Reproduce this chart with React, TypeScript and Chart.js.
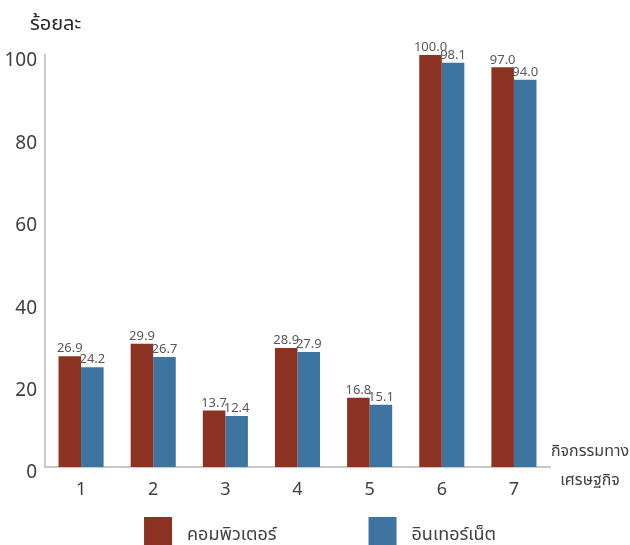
import React, { useEffect, useRef } from "react";
import { Chart, registerables } from "chart.js";

Chart.register(...registerables);

const categories = ["1", "2", "3", "4", "5", "6", "7"];
const computerValues = [26.9, 29.9, 13.7, 28.9, 16.8, 100.0, 97.0];
const internetValues = [24.2, 26.7, 12.4, 27.9, 15.1, 98.1, 94.0];
const seriesNames = ["คอมพิวเตอร์", "อินเทอร์เน็ต"];
const seriesColors = ["#8B3222", "#3E75A0"];
const yTitle = "ร้อยละ";
const xTitleLines = ["กิจกรรมทาง", "เศรษฐกิจ"];
const yMin = 0;
const yMax = 100;
const yStep = 20;

const FONT = "'Noto Sans', 'Noto Sans Thai', Tahoma, 'DejaVu Sans', sans-serif";

const extrasPlugin = {
  id: "extras",
  afterDatasetsDraw(chart: any) {
    const ctx = chart.ctx;
    ctx.save();
    // data labels
    ctx.font = `13px ${FONT}`;
    ctx.fillStyle = "#595959";
    ctx.textAlign = "center";
    ctx.textBaseline = "bottom";
    chart.data.datasets.forEach((ds: any, di: number) => {
      const meta = chart.getDatasetMeta(di);
      meta.data.forEach((el: any, i: number) => {
        ctx.fillText(Number(ds.data[i]).toFixed(1), el.x, el.y - 1);
      });
    });
    // y title
    ctx.font = `20px ${FONT}`;
    ctx.fillStyle = "#262626";
    ctx.textAlign = "left";
    ctx.textBaseline = "alphabetic";
    ctx.fillText(yTitle, 30, 30);
    // x title
    const ca = chart.chartArea;
    ctx.font = `16px ${FONT}`;
    ctx.textAlign = "center";
    ctx.fillStyle = "#404040";
    const cx = ca.right + (chart.width - ca.right) / 2;
    ctx.fillText(xTitleLines[0], cx, ca.bottom - 11);
    ctx.fillText(xTitleLines[1], cx, ca.bottom + 18);
    // legend
    ctx.font = `18px ${FONT}`;
    ctx.textAlign = "left";
    const box = 28;
    const gap = 15;
    const spacing = 92;
    const widths = seriesNames.map((n) => ctx.measureText(n).width);
    const total = widths.reduce((a, w) => a + box + gap + w, 0) + spacing;
    let x = (chart.width - total) / 2 + 5;
    const top = chart.height - 28;
    seriesNames.forEach((n, i) => {
      ctx.fillStyle = seriesColors[i];
      ctx.fillRect(x, top, box, box + 10);
      ctx.fillStyle = "#404040";
      ctx.fillText(n, x + box + gap, top + 23);
      x += box + gap + widths[i] + spacing;
    });
    ctx.restore();
  },
};

export default function App() {
  const ref = useRef<HTMLCanvasElement | null>(null);
  useEffect(() => {
    if (!ref.current) return;
    const chart = new Chart(ref.current, {
      type: "bar",
      data: {
        labels: categories,
        datasets: [
          {
            label: seriesNames[0],
            data: computerValues,
            backgroundColor: seriesColors[0],
            categoryPercentage: 0.625,
            barPercentage: 1,
          },
          {
            label: seriesNames[1],
            data: internetValues,
            backgroundColor: seriesColors[1],
            categoryPercentage: 0.625,
            barPercentage: 1,
          },
        ],
      },
      options: {
        animation: false,
        responsive: false,
        layout: { padding: { left: 0, right: 80, top: 55, bottom: 0 } },
        plugins: {
          legend: { display: false },
          tooltip: { enabled: false },
        },
        scales: {
          x: {
            grid: { display: false, drawTicks: false },
            border: { display: true, color: "#C8C8C8", width: 2 },
            ticks: { font: { family: FONT, size: 18 }, color: "#404040", padding: 12 },
            afterFit(scale: any) {
              scale.height = 78;
            },
          },
          y: {
            min: yMin,
            max: yMax,
            grid: { display: false, drawTicks: false },
            border: { display: true, color: "#C8C8C8", width: 2 },
            ticks: {
              stepSize: yStep,
              font: { family: FONT, size: 19 },
              color: "#404040",
              padding: 8,
              labelOffset: 6,
            },
            afterFit(scale: any) {
              scale.width = 45;
            },
          },
        },
      },
      plugins: [extrasPlugin],
    });
    return () => chart.destroy();
  }, []);
  return (
    <div style={{ position: "fixed", left: 0, top: 0, width: 630, height: 545, background: "#fff" }}>
      <canvas ref={ref} width={630} height={545} style={{ display: "block" }} />
    </div>
  );
}
